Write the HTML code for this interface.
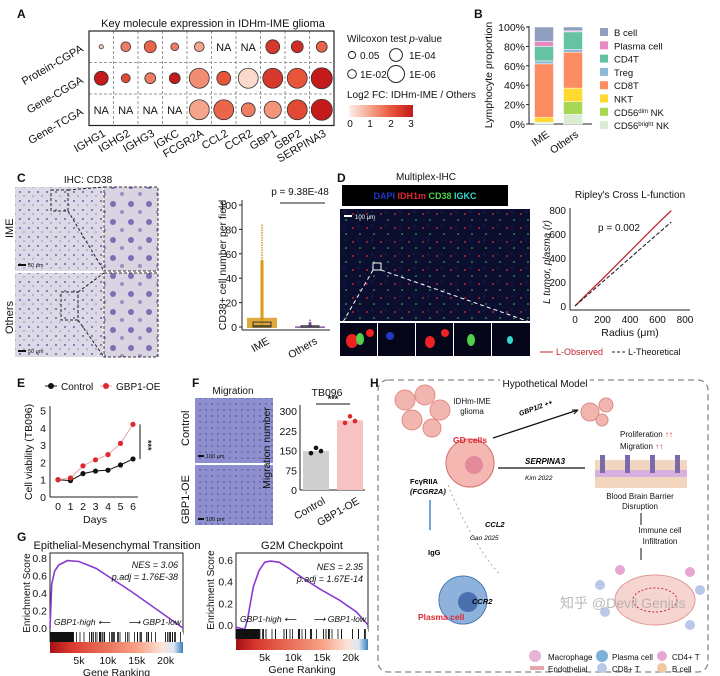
<!DOCTYPE html>
<html><head><meta charset="utf-8">
<style>
html,body{margin:0;padding:0;background:#fff;}
svg{display:block;font-family:"Liberation Sans","Noto Sans CJK SC",sans-serif;}
.t{font-size:11px;fill:#111}
.s{font-size:10px;fill:#111}
.xs{font-size:8px;fill:#111}
.pl{font-size:12px;font-weight:bold;fill:#111}
</style></head>
<body>
<svg id="fig" width="720" height="676" viewBox="0 0 720 676">
<defs>
<linearGradient id="fcgrad" x1="0" x2="1"><stop offset="0" stop-color="#fdf0ea"/><stop offset="0.33" stop-color="#f6a58a"/><stop offset="0.66" stop-color="#e8553b"/><stop offset="1" stop-color="#c41a1c"/></linearGradient>
<linearGradient id="rankgrad1" x1="0" x2="1"><stop offset="0" stop-color="#a50f15"/><stop offset="0.15" stop-color="#d8382b"/><stop offset="0.65" stop-color="#f7a184"/><stop offset="0.85" stop-color="#fbe5da"/><stop offset="0.93" stop-color="#dbe7f2"/><stop offset="1" stop-color="#3b7fbf"/></linearGradient>
<pattern id="ihc" width="9" height="9" patternUnits="userSpaceOnUse"><rect width="9" height="9" fill="#ddd8e6"/><circle cx="2" cy="3" r="1" fill="#6c62a3"/><circle cx="6" cy="7" r="0.8" fill="#8d83b8"/></pattern>
<pattern id="ihcz" width="18" height="18" patternUnits="userSpaceOnUse"><rect width="18" height="18" fill="#d9d3e2"/><circle cx="5" cy="6" r="3" fill="#7c70b5"/><circle cx="14" cy="14" r="2" fill="#9a8fc4"/></pattern>
<pattern id="mig" width="6" height="6" patternUnits="userSpaceOnUse"><rect width="6" height="6" fill="#8d8fcf"/><circle cx="2" cy="2" r="0.9" fill="#5a5aa8"/></pattern>
<pattern id="mihc" width="14" height="14" patternUnits="userSpaceOnUse"><rect width="14" height="14" fill="#0b0e2e"/><circle cx="3" cy="4" r="0.9" fill="#e0303a"/><circle cx="10" cy="10" r="0.8" fill="#3ad06a"/><circle cx="8" cy="2" r="0.6" fill="#2a3fae"/></pattern>
</defs>

<text class="pl" x="17" y="18">A</text>
<text class="pl" x="474" y="18">B</text>
<text class="pl" x="17" y="182">C</text>
<text class="pl" x="337" y="182">D</text>
<text class="pl" x="17" y="387">E</text>
<text class="pl" x="192" y="387">F</text>
<text class="pl" x="370" y="387">H</text>
<text class="pl" x="17" y="541">G</text>

<!-- Panel A -->
<text class="t" x="213" y="27" text-anchor="middle">Key molecule expression in IDHm-IME glioma</text>
<g id="gA"></g>
<text class="s" x="347" y="42">Wilcoxon test <tspan font-style="italic">p</tspan>-value</text>
<g id="gAleg"></g>
<text class="s" x="347" y="98">Log2 FC: IDHm-IME / Others</text>
<rect x="349" y="105" width="64" height="12" fill="url(#fcgrad)"/>
<g class="s" text-anchor="middle">
<text x="350" y="127">0</text><text x="370" y="127">1</text><text x="391" y="127">2</text><text x="411" y="127">3</text></g>

<!-- Panel B -->
<g id="gB"></g>

<!-- Panel C -->
<text class="s" x="88" y="183" text-anchor="middle">IHC: CD38</text>
<rect x="15" y="187" width="88" height="84" fill="url(#ihc)"/>
<rect x="104" y="187" width="54" height="84" fill="url(#ihcz)" stroke="#333" stroke-dasharray="3,2"/>
<rect x="15" y="273" width="88" height="84" fill="url(#ihc)"/>
<rect x="104" y="273" width="54" height="84" fill="url(#ihcz)" stroke="#333" stroke-dasharray="3,2"/>
<rect x="51" y="190" width="17" height="21" fill="none" stroke="#222" stroke-dasharray="3,2"/>
<rect x="61" y="292" width="17" height="28" fill="none" stroke="#222" stroke-dasharray="3,2"/>
<path d="M68 190L104 187M68 211L104 271M78 292L104 273M78 320L104 357" stroke="#222" stroke-dasharray="3,2" fill="none"/>
<rect x="18" y="264" width="8" height="2" fill="#111"/><text x="28" y="267" font-size="5.5" fill="#111">50 μm</text>
<rect x="18" y="350" width="8" height="2" fill="#111"/><text x="28" y="353" font-size="5.5" fill="#111">50 μm</text>
<text class="t" transform="translate(13,238) rotate(-90)">IME</text>
<text class="t" transform="translate(13,334) rotate(-90)">Others</text>
<g id="gC"></g>

<!-- Panel D -->
<text class="s" x="426" y="180" text-anchor="middle">Multiplex-IHC</text>
<rect x="342" y="185" width="166" height="21" fill="#000"/>
<text x="425" y="199" text-anchor="middle" font-size="9" font-weight="bold"><tspan fill="#2236c8">DAPI </tspan><tspan fill="#e3262f">IDH1m </tspan><tspan fill="#4fd14a">CD38 </tspan><tspan fill="#38d6d0">IGKC</tspan></text>
<rect x="340" y="209" width="190" height="112" fill="url(#mihc)"/>
<rect x="344" y="215" width="8" height="2" fill="#fff"/><text x="355" y="219" font-size="6" fill="#fff">100 μm</text>
<rect x="373" y="263" width="8" height="7" fill="none" stroke="#fff"/>
<path d="M373 270L343 322M381 270L530 322" stroke="#fff" stroke-dasharray="4,3"/>
<g>
<rect x="340" y="323" width="37" height="33" fill="#06061a"/><rect x="378" y="323" width="37" height="33" fill="#06061a"/><rect x="416" y="323" width="37" height="33" fill="#06061a"/><rect x="454" y="323" width="37" height="33" fill="#06061a"/><rect x="492" y="323" width="38" height="33" fill="#06061a"/>
<ellipse cx="352" cy="341" rx="6" ry="7" fill="#e22"/><ellipse cx="360" cy="339" rx="4" ry="6" fill="#4fd14a"/><circle cx="370" cy="333" r="4" fill="#e22"/>
<circle cx="390" cy="336" r="4" fill="#2236c8"/><ellipse cx="430" cy="342" rx="5" ry="6" fill="#e22"/><circle cx="445" cy="333" r="4" fill="#e22"/>
<ellipse cx="471" cy="340" rx="4" ry="6" fill="#4fd14a"/><ellipse cx="510" cy="340" rx="3" ry="4" fill="#38d6d0"/></g>
<g id="gD"></g>

<g id="gE"></g>

<!-- Panel F -->
<text class="s" x="233" y="394" text-anchor="middle">Migration</text>
<rect x="195" y="398" width="78" height="65" fill="url(#mig)"/>
<rect x="195" y="465" width="78" height="60" fill="url(#mig)"/>
<rect x="198" y="455" width="6" height="2" fill="#111"/><text x="206" y="458" font-size="5.5" fill="#111">100 μm</text>
<rect x="198" y="518" width="6" height="2" fill="#111"/><text x="206" y="521" font-size="5.5" fill="#111">100 μm</text>
<text class="t" transform="translate(189,446) rotate(-90)">Control</text>
<text class="t" transform="translate(189,524) rotate(-90)">GBP1-OE</text>
<g id="gF"></g>

<g id="gG"></g>

<!-- Panel H -->
<g>
<rect x="378" y="380" width="330" height="292" rx="10" fill="none" stroke="#888" stroke-dasharray="6,4" stroke-width="1.3"/>
<rect x="500" y="376" width="90" height="10" fill="#fff"/>
<text class="s" x="545" y="387" text-anchor="middle" fill="#333">Hypothetical Model</text>
<g fill="#f2b6b0" stroke="#e58a84">
<circle cx="405" cy="400" r="10"/><circle cx="425" cy="395" r="10"/><circle cx="440" cy="410" r="10"/><circle cx="412" cy="420" r="10"/><circle cx="432" cy="428" r="9"/></g>
<text class="xs" x="472" y="404" text-anchor="middle">IDHm-IME</text>
<text class="xs" x="472" y="414" text-anchor="middle">glioma</text>
<circle cx="470" cy="463" r="24" fill="#f4b7b1" stroke="#d46f6a"/><circle cx="474" cy="465" r="9" fill="#e58a9a"/>
<text x="470" y="443" text-anchor="middle" font-size="8.5" font-weight="bold" fill="#e0262f">GD cells</text>
<path d="M493 438L578 410" stroke="#111" stroke-width="1.2"/><path d="M578 410l-6 0m6 0l-4 4" stroke="#111"/>
<text x="520" y="416" font-size="7" font-weight="bold" font-style="italic" transform="rotate(-20 520 416)">GBP1/2 ++</text>
<g fill="#f2b6b0" stroke="#d98a84"><circle cx="590" cy="412" r="9"/><circle cx="606" cy="405" r="7"/><circle cx="602" cy="420" r="6"/></g>
<text class="xs" x="620" y="437">Proliferation <tspan fill="#e0262f" font-weight="bold">↑↑</tspan></text>
<text class="xs" x="620" y="449">Migration <tspan fill="#e0262f" font-weight="bold">↑↑</tspan></text>
<path d="M498 468L585 468" stroke="#111" stroke-width="1.2"/>
<text x="525" y="464" font-size="8" font-weight="bold" font-style="italic">SERPINA3</text>
<text x="525" y="480" font-size="6.5" font-style="italic">Kim 2022</text>
<rect x="595" y="460" width="92" height="28" fill="#f3d6c0"/><rect x="595" y="470" width="92" height="7" fill="#d8b0e0"/>
<g fill="#7a6aa8"><rect x="600" y="455" width="5" height="18"/><rect x="625" y="455" width="5" height="18"/><rect x="650" y="455" width="5" height="18"/><rect x="675" y="455" width="5" height="18"/></g>
<text class="xs" x="640" y="499" text-anchor="middle">Blood Brain Barrier</text>
<text class="xs" x="640" y="509" text-anchor="middle">Disruption</text>
<path d="M641 513L641 525" stroke="#111"/><text class="xs" x="660" y="533" text-anchor="middle">Immune cell</text><text class="xs" x="660" y="544" text-anchor="middle">Infiltration</text>
<path d="M641 548L641 560" stroke="#111"/>
<text x="410" y="484" font-size="7.5" font-weight="bold">FcγRIIA</text>
<text x="410" y="494" font-size="7.5" font-weight="bold" font-style="italic">(FCGR2A)</text>
<path d="M430 500 L430 530" stroke="#6fa7d6" stroke-width="2"/>
<path d="M448 485 Q470 540 500 575" stroke="#c8a0a0" stroke-dasharray="2,3" fill="none"/>
<text x="485" y="527" font-size="7.5" font-weight="bold" font-style="italic">CCL2</text>
<text x="470" y="540" font-size="6.5" font-style="italic">Gao 2025</text>
<text x="428" y="555" font-size="7.5" font-weight="bold">IgG</text>
<circle cx="463" cy="600" r="24" fill="#8fb2dc" stroke="#4a7bb7"/><circle cx="468" cy="602" r="10" fill="#4a70b0"/>
<text x="472" y="604" font-size="7.5" font-weight="bold" font-style="italic">CCR2</text>
<text x="418" y="620" font-size="8.5" font-weight="bold" fill="#e0262f">Plasma cell</text>
<ellipse cx="655" cy="600" rx="40" ry="25" fill="#f6d4d0" stroke="#e29a9a"/>
<ellipse cx="655" cy="600" rx="22" ry="12" fill="none" stroke="#c0303a" stroke-dasharray="2,2"/>
<g fill="#b9c8e8"><circle cx="600" cy="585" r="5"/><circle cx="605" cy="612" r="5"/><circle cx="700" cy="590" r="5"/><circle cx="690" cy="625" r="5"/></g>
<g fill="#e7a7d3"><circle cx="620" cy="570" r="5"/><circle cx="690" cy="572" r="5"/></g>
<g class="xs" fill="#555">
<circle cx="535" cy="656" r="6" fill="#e7b3d8"/><text x="548" y="660">Macrophage</text>
<rect x="530" y="666" width="14" height="4" fill="#e3a5a5"/><text x="548" y="672">Endothelial</text>
<circle cx="602" cy="656" r="6" fill="#7db1d9"/><text x="612" y="660">Plasma cell</text>
<circle cx="602" cy="668" r="5" fill="#b9c8e8"/><text x="612" y="672">CD8+ T</text>
<circle cx="662" cy="656" r="5" fill="#e7a7d3"/><text x="672" y="660">CD4+ T</text>
<circle cx="662" cy="668" r="5" fill="#f0c8a0"/><text x="672" y="672">B cell</text></g>
<text x="560" y="608" font-size="14" fill="#aaa" opacity="0.8">知乎 @Devil Genius</text>
</g>
</svg>
<script>
const NS="http://www.w3.org/2000/svg";
function mk(parent,tag,attrs,text){const e=document.createElementNS(NS,tag);for(const k in attrs)e.setAttribute(k,attrs[k]);if(text!==undefined)e.textContent=text;parent.appendChild(e);return e;}

// ---------- Panel A data ----------
const genes=["IGHG1","IGHG2","IGHG3","IGKC","FCGR2A","CCL2","CCR2","GBP1","GBP2","SERPINA3"];
const sources=["Protein-CGPA","Gene-CGGA","Gene-TCGA"];
const negLogP_CGPA=[0.3,2.3,3.1,1.6,2.3,null,null,3.8,3.1,2.7];
const negLogP_CGGA=[3.8,2.0,2.7,2.7,6.0,3.8,6.0,6.0,6.0,6.4];
const negLogP_TCGA=[null,null,null,null,6.0,6.0,3.8,5.0,6.0,6.4];
const fc_CGPA=[0.5,1.5,1.8,1.5,1.0,null,null,2.5,2.7,1.8];
const fc_CGGA=[3.0,2.2,1.5,3.0,1.3,2.0,0.3,2.5,2.0,3.0];
const fc_TCGA=[null,null,null,null,1.0,1.8,1.5,1.2,2.2,3.0];
const pLegendLabels=["0.05","1E-02","1E-04","1E-06"];
const pLegendVals=[1.3,2,4,6];

function rOf(v){return 1.7+1.38*v;}
function fcColor(v){const stops=[[253,240,234],[246,165,138],[232,85,59],[196,26,28]];const t=Math.max(0,Math.min(3,v));const i=Math.min(2,Math.floor(t));const f=t-i;const a=stops[i],b=stops[i+1];return `rgb(${a.map((c,k)=>Math.round(c+(b[k]-c)*f)).join(",")})`;}
(function(){
 const g=document.getElementById("gA");
 const x0=89,cw=24.5,y0=31,rh=31.5;
 const xA=i=>x0+cw*(i+0.5), yA=j=>y0+rh*(j+0.5);
 for(let i=1;i<genes.length;i++)mk(g,"line",{x1:x0+cw*i,x2:x0+cw*i,y1:y0,y2:y0+rh*3,stroke:"#999","stroke-dasharray":"3,2"});
 for(let j=1;j<3;j++)mk(g,"line",{x1:x0,x2:x0+cw*10,y1:y0+rh*j,y2:y0+rh*j,stroke:"#999","stroke-dasharray":"3,2"});
 mk(g,"rect",{x:x0,y:y0,width:cw*10,height:rh*3,fill:"none",stroke:"#222","stroke-width":1.2});
 const P=[negLogP_CGPA,negLogP_CGGA,negLogP_TCGA],F=[fc_CGPA,fc_CGGA,fc_TCGA];
 for(let j=0;j<3;j++)for(let i=0;i<genes.length;i++){
  if(P[j][i]===null){const t=mk(g,"text",{x:xA(i),y:yA(j)+4,"text-anchor":"middle","font-size":11,fill:"#111"},"NA");continue;}
  const c=mk(g,"circle",{cx:xA(i),cy:yA(j),r:rOf(P[j][i]),fill:fcColor(F[j][i]),stroke:"#333","stroke-width":0.8});
  
  
 }
 sources.forEach((s,j)=>{const t=mk(g,"text",{"font-size":11,fill:"#111","text-anchor":"end",transform:`translate(84,${yA(j)+4}) rotate(-30)`},s);
  
  });
 genes.forEach((s,i)=>{const t=mk(g,"text",{"font-size":11,fill:"#111","text-anchor":"end",transform:`translate(${xA(i)+5},${y0+rh*3+10}) rotate(-30)`},s);
  
  });
 const lg=document.getElementById("gAleg");
 pLegendVals.forEach((v,k)=>{const pos=[[352,55],[352,74],[396,55],[396,74]][k];
  const c=mk(lg,"circle",{cx:pos[0],cy:pos[1],r:rOf(v)*0.75+1,fill:"#fff",stroke:"#222"});
  
  
  mk(lg,"text",{x:pos[0]+(k>=2?13:8),y:pos[1]+4,"font-size":10,fill:"#111"},pLegendLabels[k]);});
})();

// ---------- Panel B data ----------
const bGroups=["IME","Others"];
const cellTypes=["CD56bright NK","CD56dim NK","NKT","CD8T","Treg","CD4T","Plasma cell","B cell"];
const imeProp=[1,1,5,55,3,15,5,15];
const othersProp=[10,13,14,37,3,18,1,4];
const bTicks=[0,20,40,60,80,100];
const cellColors=["#d9ecd0","#a6d854","#ffd92f","#fc8d62","#8db7d6","#66c2a5","#e78ac3","#8f9fc0"];
(function(){
 const g=document.getElementById("gB");
 const y=v=>124-v*0.97, bx=[544,573], bw=19;
 mk(g,"line",{x1:529,x2:529,y1:26,y2:124,stroke:"#222"});mk(g,"line",{x1:529,x2:592,y1:124,y2:124,stroke:"#222"});
 bTicks.forEach(t=>{mk(g,"line",{x1:526,x2:529,y1:y(t),y2:y(t),stroke:"#222"});mk(g,"text",{x:525,y:y(t)+4,"text-anchor":"end","font-size":10.5,fill:"#111"},t+"%");});
 mk(g,"text",{transform:"translate(492,75) rotate(-90)","text-anchor":"middle","font-size":10.5,fill:"#111"},"Lymphocyte proportion");
 [imeProp,othersProp].forEach((arr,gi)=>{let acc=0;arr.forEach((v,k)=>{
  const r=mk(g,"rect",{x:bx[gi]-bw/2,y:y(acc+v),width:bw,height:v*0.97,fill:cellColors[k],stroke:"#fff","stroke-width":0.5});
  
  
  acc+=v;});
  mk(g,"text",{transform:`translate(${bx[gi]+6},${136}) rotate(-35)`,"text-anchor":"end","font-size":10.5,fill:"#111"},bGroups[gi]);});
 const lab=["CD56<tspan font-size='6' dy='-3'>bright</tspan><tspan dy='3'> NK</tspan>","CD56<tspan font-size='6' dy='-3'>dim</tspan><tspan dy='3'> NK</tspan>","NKT","CD8T","Treg","CD4T","Plasma cell","B cell"];
 for(let k=7;k>=0;k--){const yy=33+(7-k)*13.3;
  const r=mk(g,"rect",{x:600,y:yy-5,width:8,height:8,fill:cellColors[k]});
  
  
  const t=mk(g,"text",{x:614,y:yy+3,"font-size":9.5,fill:"#111"});t.innerHTML=lab[k];}
})();

// ---------- Panel C data ----------
const cGroups=["IME","Others"];
const cMedian=[1,0];
const cQ1=[0,0];
const cQ3=[4,1];
const cMax=[84,6];
const cTicks=[0,20,40,60,80,100];
(function(){
 const g=document.getElementById("gC");
 const y=v=>327-v*1.22, xc=[262,310];
 mk(g,"line",{x1:242,x2:242,y1:200,y2:330,stroke:"#222"});mk(g,"line",{x1:242,x2:330,y1:330,y2:330,stroke:"#222"});
 cTicks.forEach(t=>{mk(g,"line",{x1:239,x2:242,y1:y(t),y2:y(t),stroke:"#222"});mk(g,"text",{x:237,y:y(t)+4,"text-anchor":"end","font-size":10.5,fill:"#111"},t);});
 mk(g,"text",{transform:"translate(226,265) rotate(-90)","text-anchor":"middle","font-size":10.5,fill:"#111"},"CD38+ cell number per field");
 mk(g,"text",{x:300,y:195,"text-anchor":"middle","font-size":10,fill:"#111"},"p = 9.38E-48");
 mk(g,"line",{x1:280,x2:325,y1:203,y2:203,stroke:"#222"});
 const cols=["#d99a1a","#7d4d9c"];
 cGroups.forEach((n,i)=>{
  mk(g,"line",{x1:xc[i],x2:xc[i],y1:y(cMax[i]),y2:y(0),stroke:cols[i],"stroke-width":1.5,"stroke-dasharray":"1.5,1"});
  mk(g,"line",{x1:xc[i],x2:xc[i],y1:y(cMax[i]*0.65),y2:y(0),stroke:cols[i],"stroke-width":3});
  mk(g,"rect",{x:xc[i]-15,y:y(cMax[i]*0.09),width:30,height:y(0)-y(cMax[i]*0.09)+1,fill:cols[i],opacity:0.85});
  const b=mk(g,"rect",{x:xc[i]-9,y:y(cQ3[i]),width:18,height:Math.max(1,y(cQ1[i])-y(cQ3[i])),fill:"none",stroke:"#333"});
  
  
  mk(g,"line",{x1:xc[i]-9,x2:xc[i]+9,y1:y(cMedian[i]),y2:y(cMedian[i]),stroke:"#333"});
  mk(g,"text",{transform:`translate(${xc[i]+8},343) rotate(-30)`,"text-anchor":"end","font-size":10.5,fill:"#111"},n);});
})();

// ---------- Panel D data ----------
const radius=[0,100,200,300,400,500,600,700];
const lObserved=[0,115,225,340,455,570,685,795];
const lTheoretical=[0,100,200,300,400,500,600,700];
const dTicks=[0,200,400,600,800];
(function(){
 const g=document.getElementById("gD");
 const x=v=>575+v*0.1375, y=v=>306-v*0.12;
 mk(g,"text",{x:630,y:198,"text-anchor":"middle","font-size":10,fill:"#111"},"Ripley's Cross L-function");
 mk(g,"line",{x1:570,x2:570,y1:208,y2:310,stroke:"#222"});mk(g,"line",{x1:570,x2:690,y1:310,y2:310,stroke:"#222"});
 dTicks.forEach(t=>{mk(g,"text",{x:566,y:y(t)+4,"text-anchor":"end","font-size":10,fill:"#111"},t);mk(g,"text",{x:x(t),y:323,"text-anchor":"middle","font-size":10,fill:"#111"},t);});
 mk(g,"text",{x:630,y:336,"text-anchor":"middle","font-size":10.5,fill:"#111"},"Radius (μm)");
 mk(g,"text",{transform:"translate(550,262) rotate(-90)","text-anchor":"middle","font-size":10,fill:"#111","font-style":"italic"},"L tumor, plasma (r)");
 mk(g,"text",{x:598,y:231,"font-size":10,fill:"#111"},"p = 0.002");
 const pathOf=arr=>radius.map((r,i)=>(i?"L":"M")+x(r)+" "+y(arr[i])).join("");
 const l1=mk(g,"path",{d:pathOf(lObserved),stroke:"#c0262f",fill:"none","stroke-width":1.3});
 
 
 const l2=mk(g,"path",{d:pathOf(lTheoretical),stroke:"#222",fill:"none","stroke-dasharray":"4,2","stroke-width":1.1});
 
 
 mk(g,"line",{x1:540,x2:553,y1:352,y2:352,stroke:"#c0262f"});
 mk(g,"text",{x:556,y:355,"font-size":9,fill:"#c0262f"},"L-Observed");
 mk(g,"line",{x1:612,x2:625,y1:352,y2:352,stroke:"#222","stroke-dasharray":"3,2"});
 mk(g,"text",{x:628,y:355,"font-size":9,fill:"#111"},"L-Theoretical");
})();

// ---------- Panel E data ----------
const days=[0,1,2,3,4,5,6];
const controlViability=[1,0.95,1.35,1.5,1.55,1.85,2.2];
const gbp1Viability=[1,1.1,1.8,2.15,2.45,3.1,4.2];
const eTicks=[0,1,2,3,4,5];
(function(){
 const g=document.getElementById("gE");
 const x=v=>58+v*12.5, y=v=>497-v*17.3;
 mk(g,"line",{x1:50,x2:50,y1:406,y2:497,stroke:"#222"});mk(g,"line",{x1:50,x2:138,y1:497,y2:497,stroke:"#222"});
 eTicks.forEach(t=>{mk(g,"text",{x:46,y:y(t)+4,"text-anchor":"end","font-size":10.5,fill:"#111"},t);});
 days.forEach(d=>{mk(g,"text",{x:x(d),y:510,"text-anchor":"middle","font-size":10.5,fill:"#111"},d);});
 mk(g,"text",{x:95,y:523,"text-anchor":"middle","font-size":10.5,fill:"#111"},"Days");
 mk(g,"text",{transform:"translate(32,452) rotate(-90)","text-anchor":"middle","font-size":10.5,fill:"#111"},"Cell viability (TB096)");
 [[controlViability,"#111","#111"],[gbp1Viability,"#e8a5a5","#e0262f"]].forEach(([arr,lc,pc],si)=>{
  const p=mk(g,"path",{d:days.map((d,i)=>(i?"L":"M")+x(d)+" "+y(arr[i])).join(""),stroke:lc,fill:"none"});
  
  
  days.forEach((d,i)=>{const c=mk(g,"circle",{cx:x(d),cy:y(arr[i]),r:2.6,fill:pc});
   
   });});
 mk(g,"line",{x1:140,x2:140,y1:y(4.2),y2:y(2.2),stroke:"#111"});
 mk(g,"text",{transform:"translate(145,440) rotate(90)","font-size":9,fill:"#111","font-weight":"bold"},"***");
 mk(g,"line",{x1:45,x2:57,y1:386,y2:386,stroke:"#111"});mk(g,"circle",{cx:51,cy:386,r:3,fill:"#111"});
 mk(g,"text",{x:61,y:390,"font-size":10,fill:"#111"},"Control");
 mk(g,"line",{x1:100,x2:112,y1:386,y2:386,stroke:"#e8a5a5"});mk(g,"circle",{cx:106,cy:386,r:3,fill:"#e0262f"});
 mk(g,"text",{x:116,y:390,"font-size":10,fill:"#111"},"GBP1-OE");
})();

// ---------- Panel F data ----------
const fGroups=["Control","GBP1-OE"];
const migrationMean=[148,265];
const migrationPoints=[[140,160,148],[255,280,262]];
const fTicks=[0,75,150,225,300];
(function(){
 const g=document.getElementById("gF");
 const y=v=>490-v*0.263, xc=[316,350], bw=26;
 mk(g,"text",{x:327,y:396,"text-anchor":"middle","font-size":10.5,fill:"#111"},"TB096");
 mk(g,"line",{x1:300,x2:300,y1:405,y2:490,stroke:"#222"});mk(g,"line",{x1:300,x2:365,y1:490,y2:490,stroke:"#222"});
 fTicks.forEach(t=>{mk(g,"text",{x:297,y:y(t)+4,"text-anchor":"end","font-size":10.5,fill:"#111"},t);});
 mk(g,"text",{transform:"translate(270,448) rotate(-90)","text-anchor":"middle","font-size":10.5,fill:"#111"},"Migration number");
 const cols=["#cfcfcf","#f6c2c2"],pc=["#111","#e0262f"];
 fGroups.forEach((n,i)=>{
  const r=mk(g,"rect",{x:xc[i]-bw/2,y:y(migrationMean[i]),width:bw,height:y(0)-y(migrationMean[i]),fill:cols[i]});
  
  
  migrationPoints[i].forEach((v,k)=>{const c=mk(g,"circle",{cx:xc[i]-5+k*5,cy:y(v),r:2.3,fill:pc[i]});
   
   });
  mk(g,"text",{transform:`translate(${xc[i]+10},503) rotate(-30)`,"text-anchor":"end","font-size":10.5,fill:"#111"},n);});
 mk(g,"line",{x1:316,x2:350,y1:404,y2:404,stroke:"#111"});
 mk(g,"text",{x:333,y:402,"text-anchor":"middle","font-size":9,"font-weight":"bold",fill:"#111"},"***");
})();

// ---------- Panel G data ----------
const emtRank=[0,300,800,1500,3000,5000,8000,11000,14000,17000,20000,23000];
const emtES=[0,0.5,0.65,0.72,0.77,0.76,0.68,0.55,0.42,0.28,0.14,0.0];
const g2mRank=[0,1500,2000,3000,4000,5000,6000,7500,9000,12000,15000,18000,21000,23000];
const g2mES=[-0.02,-0.04,0.05,0.35,0.5,0.58,0.59,0.58,0.53,0.42,0.32,0.23,0.12,0.0];
const rankTicks=[5000,10000,15000,20000];
const rankTickLabels=["5k","10k","15k","20k"];
const emtYTicks=[0,0.2,0.4,0.6,0.8];
const g2mYTicks=[0,0.2,0.4,0.6];
(function(){
 const g=document.getElementById("gG");
 function plot(cfg){
  const {x0,x1,yTop,yMaxVal,yZero,ranks,es,yt,title,nes,padj,tx,ylx,name}=cfg;
  const x=v=>x0+v/23000*(x1-x0), y=v=>yZero-v*(yZero-yTop)/yMaxVal;
  mk(g,"text",{x:tx,y:549,"text-anchor":"middle","font-size":11,fill:"#111"},title);
  mk(g,"rect",{x:x0,y:553,width:x1-x0,height:yZero+6-553,fill:"none",stroke:"#222"});
  yt.forEach(t=>{mk(g,"text",{x:x0-3,y:y(t)+4,"text-anchor":"end","font-size":10.5,fill:"#111"},t.toFixed(1));});
  mk(g,"text",{transform:`translate(${ylx},${yZero-35}) rotate(-90)`,"text-anchor":"middle","font-size":10,fill:"#111"},"Enrichment Score");
  const p=mk(g,"path",{d:ranks.map((r,i)=>(i?"L":"M")+x(r)+" "+y(es[i])).join(""),stroke:"#8a3ad0",fill:"none","stroke-width":1.6});
  
  
  mk(g,"text",{x:x1-5,y:yTop+10,"text-anchor":"end","font-size":9,"font-style":"italic",fill:"#111"},nes);
  mk(g,"text",{x:x1-5,y:yTop+22,"text-anchor":"end","font-size":9,"font-style":"italic",fill:"#111"},padj);
  mk(g,"text",{x:x0+4,y:yZero-3,"font-size":8.5,"font-style":"italic",fill:"#111"},"GBP1-high ⟵");
  mk(g,"text",{x:x1-2,y:yZero-3,"text-anchor":"end","font-size":8.5,"font-style":"italic",fill:"#111"},"⟶ GBP1-low");
  const by=yZero+4;
  mk(g,"rect",{x:x0,y:by,width:x1-x0,height:10,fill:"#fff"});
  for(let k=0;k<70;k++){const f=(k*k*0.6+k*3)%(x1-x0); mk(g,"line",{x1:x0+f,x2:x0+f,y1:by,y2:by+10,stroke:"#111","stroke-width":0.8});}
  mk(g,"rect",{x:x0,y:by,width:(x1-x0)*0.18,height:10,fill:"#111"});
  mk(g,"rect",{x:x0,y:by+10,width:x1-x0,height:11,fill:"url(#rankgrad1)"});
  rankTicks.forEach((t,i)=>{mk(g,"text",{x:x(t),y:by+32,"text-anchor":"middle","font-size":10.5,fill:"#111"},rankTickLabels[i]);});
  mk(g,"text",{x:(x0+x1)/2,y:by+44,"text-anchor":"middle","font-size":10.5,fill:"#111"},"Gene Ranking");
 }
 plot({x0:50,x1:183,yTop:558,yMaxVal:0.8,yZero:628,ranks:emtRank,es:emtES,yt:emtYTicks,title:"Epithelial-Mesenchymal Transition",nes:"NES = 3.06",padj:"p.adj = 1.76E-38",tx:117,ylx:30,name:"emt"});
 plot({x0:236,x1:368,yTop:560,yMaxVal:0.6,yZero:625,ranks:g2mRank,es:g2mES,yt:g2mYTicks,title:"G2M Checkpoint",nes:"NES = 2.35",padj:"p.adj = 1.67E-14",tx:302,ylx:214,name:"g2m"});
})();
</script>
</body></html>
